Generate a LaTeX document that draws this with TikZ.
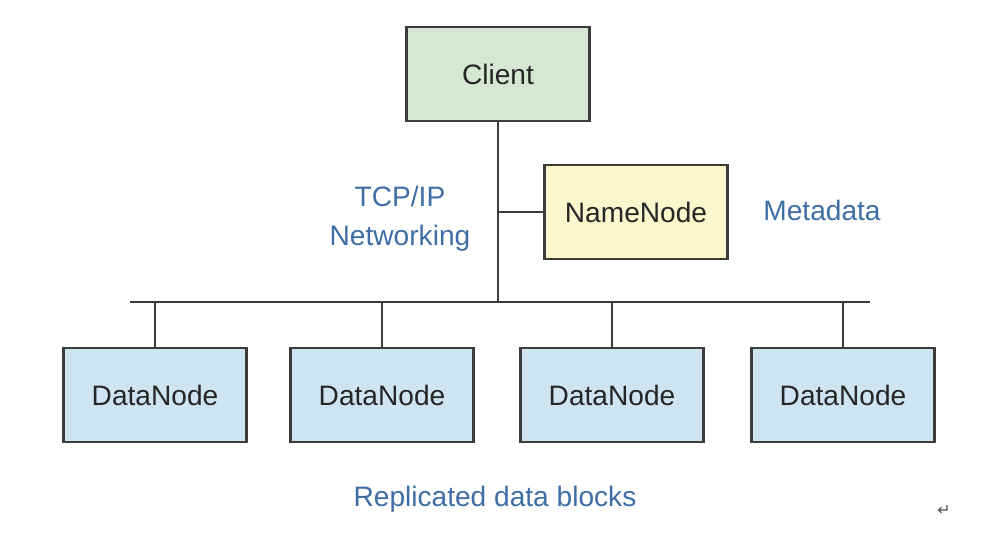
\documentclass[tikz,border=0pt]{standalone}
\usepackage{fontspec}
\setmainfont{Liberation Sans}
\newfontfamily\symfont{DejaVu Sans}
\usepackage{tikz}
\usetikzlibrary{positioning}
\definecolor{clientgreen}{RGB}{214, 232, 212}
\definecolor{nameyellow}{RGB}{251, 246, 204}
\definecolor{datablue}{RGB}{206, 228, 240}
\definecolor{boxline}{RGB}{60, 60, 60}
\definecolor{labelblue}{RGB}{62, 110, 165}

\tikzset{
  hbox/.style={draw=boxline, line width=1.3pt, minimum width=3.66cm,
    minimum height=1.88cm, font=\fontsize{16}{19}\selectfont, text=black!85},
  wire/.style={draw=boxline, line width=1.2pt},
  bluelabel/.style={text=labelblue, font=\fontsize{16}{22}\selectfont, align=center}
}

\begin{document}
\begin{tikzpicture}[x=0.02cm, y=-0.02cm]
  \useasboundingbox (0,0) rectangle (998,532);
  % master side
  \node[hbox, fill=clientgreen] (client) at (498,74) {Client};
  \node[hbox, fill=nameyellow] (namenode) at (636,212) {NameNode};
  % bus
  \coordinate (busL) at (130,302);
  \coordinate (busR) at (870,302);
  \draw[wire] (busL) -- (busR);
  \draw[wire] (client.south) -- (client.south |- busL);
  \draw[wire] (namenode.west) -- (client.south |- namenode.west);
  % data nodes
  \foreach \n/\x in {d1/155, d2/382, d3/612, d4/843} {
    \node[hbox, fill=datablue] (\n) at (\x,395) {DataNode};
    \draw[wire] (\n.north) -- (\n.north |- busL);
  }
  % labels
  \node[bluelabel] (tcp) at (400,219) {TCP/IP\\Networking};
  \node[bluelabel] (meta) at (822,210) {Metadata};
  \node[bluelabel] (repl) at (495,499) {Replicated data blocks};
  \node[text=black!70, font=\symfont\small] (ret) at (944,511) {↵};
\end{tikzpicture}
\end{document}
